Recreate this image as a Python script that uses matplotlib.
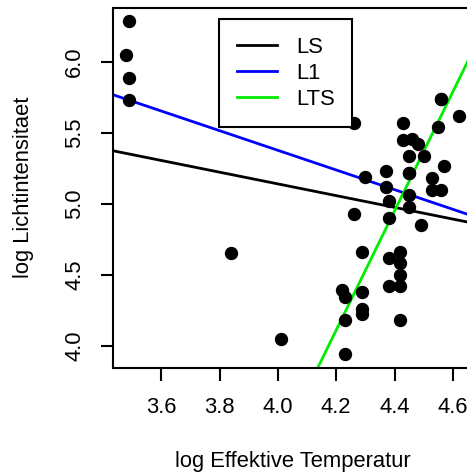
import matplotlib
matplotlib.use('Agg')
import matplotlib.pyplot as plt
from matplotlib.lines import Line2D

plt.rcParams['font.family'] = ['Liberation Sans', 'DejaVu Sans']

# Sternhaufen CYG OB1: log Temperatur / log Lichtintensitaet
log_te = [4.37, 4.56, 4.26, 4.56, 4.30, 4.46, 3.84, 4.57, 4.26, 4.37,
          3.49, 4.43, 4.48, 4.01, 4.29, 4.42, 4.23, 4.42, 4.23, 3.49,
          4.29, 4.29, 4.42, 4.49, 4.38, 4.42, 4.29, 4.38, 4.22, 3.48,
          4.38, 4.56, 4.45, 3.49, 4.23, 4.62, 4.53, 4.45, 4.53, 4.43,
          4.38, 4.45, 4.50, 4.45, 4.55, 4.45, 4.42]
log_light = [5.23, 5.74, 4.93, 5.74, 5.19, 5.46, 4.65, 5.27, 5.57, 5.12,
             5.73, 5.45, 5.42, 4.05, 4.26, 4.58, 3.94, 4.18, 4.18, 5.89,
             4.38, 4.22, 4.42, 4.85, 5.02, 4.66, 4.66, 4.90, 4.39, 6.05,
             4.42, 5.10, 5.22, 6.29, 4.34, 5.62, 5.10, 5.22, 5.18, 5.57,
             4.62, 5.06, 5.34, 5.34, 5.54, 4.98, 4.50]

# Regressionsgeraden (Achsenabschnitt, Steigung)
fit_names = ['LS', 'L1', 'LTS']
fit_coef = [(6.7935, -0.4133), (8.149, -0.693), (-13.53, 4.20)]
fit_colors = ['black', 'blue', '#00EE00']

fs = 15.8
fig = plt.figure(figsize=(4.67, 4.72), dpi=100)
ax = fig.add_axes([113 / 467, (472 - 367.5) / 472, (472 - 113) / 467, 360 / 472])

ax.plot(log_te, log_light, 'o', color='black', markersize=8.6, zorder=3)

for (a, b), c in zip(fit_coef, fit_colors):
    ax.axline((0, a), slope=b, color=c, lw=2, zorder=2)

# R-Standard: 4% Erweiterung
xr = max(log_te) - min(log_te)
yr = max(log_light) - min(log_light)
ax.set_xlim(min(log_te) - 0.04 * xr, max(log_te) + 0.04 * xr)
ax.set_ylim(min(log_light) - 0.04 * yr, max(log_light) + 0.04 * yr)

ax.set_xticks([3.6, 3.8, 4.0, 4.2, 4.4, 4.6])
ax.set_yticks([4.0, 4.5, 5.0, 5.5, 6.0])
ax.set_xticklabels(['3.6', '3.8', '4.0', '4.2', '4.4', '4.6'])
ax.set_yticklabels(['4.0', '4.5', '5.0', '5.5', '6.0'])
ax.tick_params(length=9, width=1.5, labelsize=fs)
ax.tick_params(axis='x', pad=12)
ax.tick_params(axis='y', pad=11, labelrotation=90)
for t in ax.get_yticklabels():
    t.set_va('center')
for s in ax.spines.values():
    s.set_linewidth(1.5)

ax.set_xlabel('log Effektive Temperatur', fontsize=fs, labelpad=24)
ax.set_ylabel('log Lichtintensitaet', fontsize=fs, labelpad=22)

handles = [Line2D([], [], color=c, lw=2) for c in fit_colors]
leg = ax.legend(handles, fit_names, loc='upper left', fontsize=fs,
                bbox_to_anchor=((219 - 113) / 359, (367.5 - 19.3) / 360),
                borderaxespad=0, fancybox=False, edgecolor='black',
                handlelength=1.85, handletextpad=0.85, labelspacing=0.22,
                borderpad=0.8, framealpha=1)
leg.get_frame().set_linewidth(1.5)

fig.savefig('out.png', dpi=100)
